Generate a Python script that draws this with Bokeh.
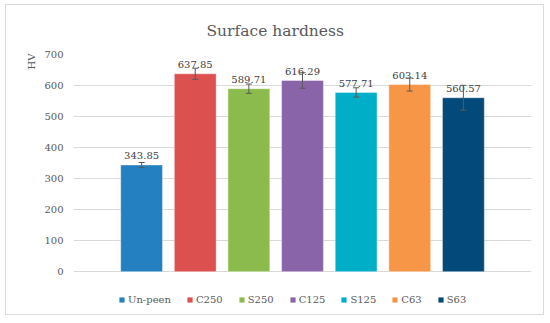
from bokeh.plotting import figure
from bokeh.models import ColumnDataSource, Range1d, Whisker, TeeHead, Legend, LegendItem, Title
from bokeh.embed import file_html
from bokeh.resources import INLINE
from bokeh.core.properties import value

categories = ["Un-peen", "C250", "S250", "C125", "S125", "C63", "S63"]
hardness = [343.85, 637.85, 589.71, 616.29, 577.71, 603.14, 560.57]
errors = [8, 18, 15, 25, 15, 21, 40]
colors = ["#2480C0", "#DD5050", "#8BBB4C", "#8964A8", "#00AEC8", "#F79646", "#03497A"]
y_ticks = [0, 100, 200, 300, 400, 500, 600, 700]

xs = list(range(len(categories)))
src = ColumnDataSource(dict(
    x=xs, top=hardness, color=colors, cat=categories,
    upper=[h + e for h, e in zip(hardness, errors)],
    lower=[h - e for h, e in zip(hardness, errors)],
    label=[f"{h:.2f}" for h in hardness],
))

FONT = "DejaVu Serif"
p = figure(width=539, height=311, output_backend="svg", toolbar_location=None,
           x_range=Range1d(-1.27, len(categories) - 1 + 1.27), y_range=Range1d(-144.5, 700),
           x_axis_location=None, min_border_left=67, min_border_right=14,
           min_border_top=48, min_border_bottom=0)
p.styles = {"border": "1px solid #D9D9D9", "margin-left": "5px", "margin-top": "4px"}
p.title = Title(text="Surface hardness", text_font=FONT, text_font_size="15.5px",
                text_color="#595959", text_font_style="normal", align="left", offset=133,
                vertical_align="bottom", standoff=29)
p.outline_line_color = None
p.background_fill_color = "white"

p.ygrid.grid_line_color = "#D9D9D9"
p.ygrid.grid_line_width = 1
p.xgrid.grid_line_color = None
p.yaxis.ticker = y_ticks
p.yaxis.axis_line_color = None
p.yaxis.major_tick_line_color = None
p.yaxis.minor_tick_line_color = None
p.yaxis.major_tick_out = 0
p.yaxis.major_tick_in = 0
p.yaxis.major_label_text_font = FONT
p.yaxis.major_label_text_font_size = "10px"
p.yaxis.major_label_text_color = "#595959"
p.yaxis.major_label_standoff = 10

p.add_layout(Title(text="HV", text_font=FONT, text_font_size="10px", text_color="#595959",
                   text_font_style="normal", align="right", offset=-1), "left")

bars = p.vbar(x="x", top="top", width=0.78, bottom=0, fill_color="color",
              line_color="white", line_alpha=0.4, line_width=1, source=src)

w = Whisker(source=src, base="x", upper="upper", lower="lower", line_color="#595959",
            line_width=1, level="overlay",
            upper_head=TeeHead(size=6, line_color="#595959", line_width=1),
            lower_head=TeeHead(size=6, line_color="#595959", line_width=1))
p.add_layout(w)

p.text(x="x", y="top", text="label", source=src, text_align="center",
       text_baseline="alphabetic", y_offset=-9, text_font=value(FONT),
       text_font_size="10px", text_color="#404040")

items = [LegendItem(label=c, renderers=[bars], index=i) for i, c in enumerate(categories)]
legend = Legend(items=items, orientation="horizontal", location=(45, 11),
                glyph_width=7, glyph_height=7, label_standoff=3, spacing=15,
                label_text_font=FONT, label_text_font_size="10px",
                label_text_color="#595959", border_line_color=None,
                background_fill_alpha=0, padding=4, margin=0)
p.add_layout(legend)

open("out.html", "w").write(file_html(p, INLINE))
